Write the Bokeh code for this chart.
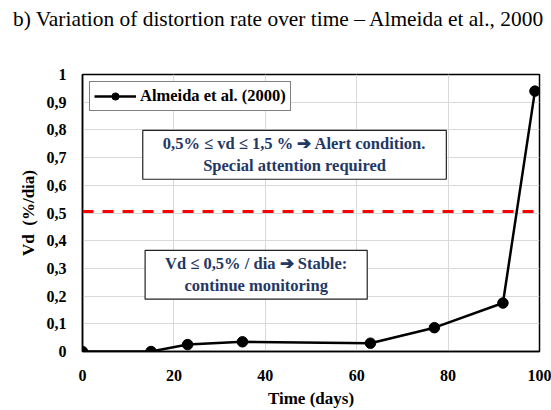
from bokeh.plotting import figure
from bokeh.layouts import column
from bokeh.models import (Span, Label, Legend, LegendItem, FixedTicker, Range1d, Div)
from bokeh.embed import file_html
from bokeh.resources import INLINE

# ---- data ----
time_days = [0, 15, 23, 35, 63, 77, 92, 99]
vd_rate = [0.0, 0.0, 0.025, 0.035, 0.03, 0.086, 0.175, 0.94]
series_name = "Almeida et al. (2000)"
threshold = 0.505
x_ticks = [0, 20, 40, 60, 80, 100]
y_ticks = [0, 0.1, 0.2, 0.3, 0.4, 0.5, 0.6, 0.7, 0.8, 0.9, 1.0]
y_tick_labels = ["0", "0,1", "0,2", "0,3", "0,4", "0,5", "0,6", "0,7", "0,8", "0,9", "1"]
title_text = "b) Variation of distortion rate over time \u2013 Almeida et al., 2000"
alert_text = "0,5% \u2264 vd \u2264 1,5 % \u2794 Alert condition.\nSpecial attention required"
stable_text = "Vd \u2264 0,5% / dia \u2794 Stable:\ncontinue monitoring"

SERIF = "Liberation Serif"
NAVY = "#1f3864"

title_div = Div(text=title_text, width=551, height=36, margin=(0, 0, 0, 0),
                styles={"font-family": SERIF, "font-size": "21.4px", "color": "black",
                        "line-height": "1", "padding-left": "13px", "padding-top": "9px",
                        "white-space": "nowrap", "box-sizing": "border-box"})

p = figure(width=551, height=374, output_backend="svg", toolbar_location=None,
           x_range=Range1d(0, 100), y_range=Range1d(0, 1),
           min_border_left=82, min_border_right=12, min_border_top=38, min_border_bottom=59,
           margin=(0, 0, 0, 0))

p.outline_line_color = "black"
p.outline_line_width = 1.5
p.background_fill_color = "white"
p.border_fill_color = "white"

# axes
for ax in (p.xaxis[0], p.yaxis[0]):
    ax.major_tick_line_color = None
    ax.minor_tick_line_color = None
    ax.axis_line_color = "black"
    ax.axis_line_width = 1.5
    ax.major_label_text_font = SERIF
    ax.major_label_text_font_size = "16px"
    ax.major_label_text_font_style = "bold"
    ax.major_label_text_color = "black"
    ax.axis_label_text_font = SERIF
    ax.axis_label_text_font_size = "17px"
    ax.axis_label_text_font_style = "bold"
    ax.axis_label_text_color = "black"

p.xaxis.ticker = FixedTicker(ticks=x_ticks)
p.yaxis.ticker = FixedTicker(ticks=y_ticks)
p.yaxis.major_label_overrides = {t: l for t, l in zip(y_ticks, y_tick_labels)}
p.xaxis.major_label_standoff = 12
p.yaxis.major_label_standoff = 10
p.xaxis.axis_label = "Time (days)"
p.yaxis.axis_label = "Vd\u00a0 (%/dia)"
p.xaxis.axis_label_standoff = 5
p.yaxis.axis_label_standoff = 6

p.xgrid.grid_line_color = "#d9d9d9"
p.ygrid.grid_line_color = "#d9d9d9"
p.xgrid.grid_line_width = 1
p.ygrid.grid_line_width = 1

# threshold line
p.add_layout(Span(location=threshold, dimension="width", line_color="#ff0000",
                  line_width=3, line_dash="11 9"))

# series
ln = p.line(time_days, vd_rate, line_color="black", line_width=2.5)
sc = p.scatter(time_days, vd_rate, size=10.5, fill_color="black", line_color="black")

legend = Legend(items=[LegendItem(label=series_name, renderers=[ln, sc])],
                location="top_left",
                label_text_font=SERIF, label_text_font_size="16.5px",
                label_text_font_style="bold", label_text_color="black",
                border_line_color="black", border_line_width=1.2,
                background_fill_color="white", background_fill_alpha=1,
                glyph_width=42, glyph_height=18, margin=7, padding=4,
                label_standoff=4, spacing=0)
p.add_layout(legend)

# annotation boxes
for txt, xc, yc in ((alert_text, 46.4, 0.71), (stable_text, 38.0, 0.277)):
    p.add_layout(Label(x=xc, y=yc, text=txt, text_align="center", text_baseline="middle",
                       text_font=SERIF, text_font_size="16.5px", text_font_style="bold",
                       text_color=NAVY, text_line_height=1.15,
                       border_line_color="#222222", border_line_width=1.2,
                       background_fill_color="white", background_fill_alpha=1,
                       padding=dict(left=20, right=20, top=4, bottom=4)))

layout = column(title_div, p, spacing=0, margin=(0, 0, 0, 0))
open("out.html", "w").write(file_html(layout, INLINE))
